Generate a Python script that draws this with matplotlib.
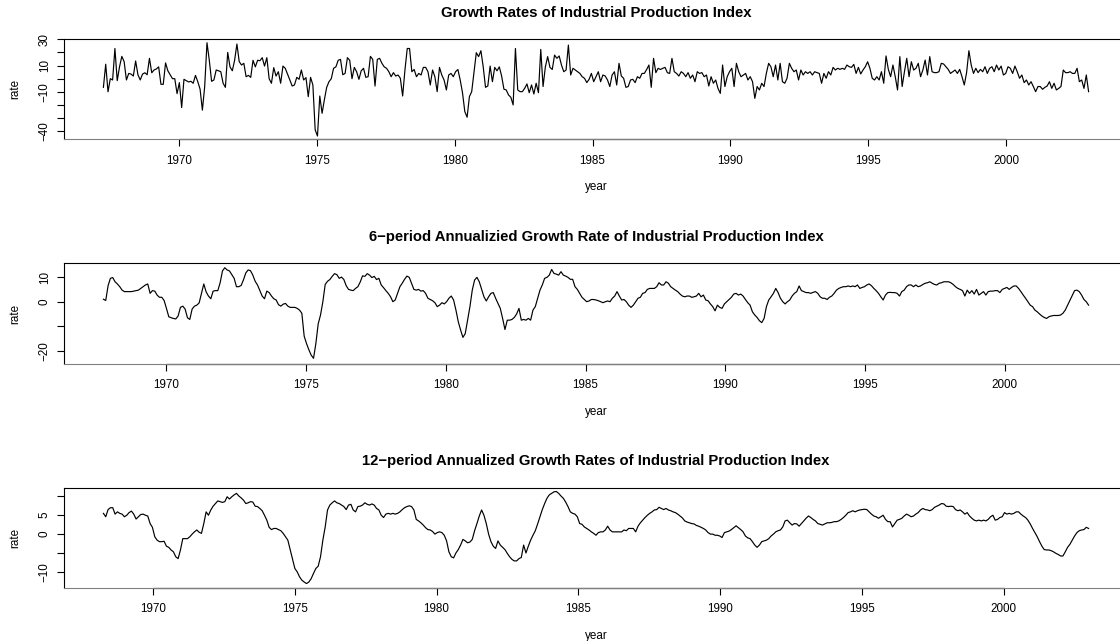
import matplotlib
matplotlib.use("Agg")
import matplotlib.pyplot as plt
import numpy as np

plt.rcParams['font.family'] = ['Liberation Sans', 'DejaVu Sans']

# monthly growth rate (1967.25 .. 2003.0)
growth = [
    -6.6, 11, -10, 0, -1, 23, -1.5, 9, 17, 13,
    -1, 4, 3.5, 2, 13.5, 3, -1, 3.5, 4.5, 3,
    15.5, 4.5, 6.6, 7.4, 9, -4.3, -4.3, 12, 6, 3,
    0, 0, -11.4, -3, -22, -0.5, -1.5, -2.5, -2, -3.5,
    2.5, -2.3, -8, -24, -6, 27.4, 14, -2, -1, 6.6,
    6, 5.3, -3.5, -6.6, 20, 9, 6, 14, 26.4, 13,
    10.4, 11.7, 1.5, 2.5, 1, 14, 9, 14, 13.7, 16,
    9.6, 16, 0, -3.5, 8.4, 2, 5.3, -3.5, 9.6, 7.9,
    3.5, -1, -5.6, -4.8, 1, -0.5, 6.6, -1, 0.8, -13.7,
    1, -4.8, -39, -43.7, -13.2, -26.4, -16, -6.6, -2.3, 0,
    7.9, 9, 14, 14.7, 3, 4, 16, 14, 0, 8.6,
    5.3, -0.5, 6, 7.9, 1, 1.5, 17, 14.7, -5.6, 14.7,
    15.5,
    11.7, 9, 7.9, 5.3, 1.5, 4.6, 2, 2.8, 0.3, -13.2,
    6.6, 23, 23, 5.3, 7, 1.5, 4, 2.8, 8.6, 8.6,
    5.3, -4.8, 6.6, 1.5, -9.9, 8.6, 2.8, -1, -8.6, 2.8,
    4, 1.5, 5.3, 7, -1, -10.7, -25, -29.4, -13.7, -9.9,
    5.3, 19.8, 16.8, 21.3, 9, -6.6, -5.6, 9.6, -2.3, 8.6,
    6, 9, 2, -8, -8.6, -12.4, -14.2, -20, 23, -8.6,
    -9.9, -9.9, -7.4, -4, -10.7, -4.8, -11.7, -3.5, -10.7, 22.3,
    -6, 9, 16.8, 8.6, 7, 18, 15.5, 17.3, 10.4, 5.3,
    6.6, 25.6, 2.8, 7.9, 6.6, 5.3, 4, 1.5, 0.3, -3,
    -0.5, 4, -2.3, 1.5, 5.3, -2.3, 2.8, 2, -1, -6,
    2.8, 5.3, -4.8, 11.7, 2, 0.3, -6.6, -6, -1, -0.5,
    -3, 1.5, 0.3, 4, 4, 7, 10.4, -6.6, 15.5, 4.6,
    7.9, 7, 7.9, 8.6, 4.6, 4, 15.5, 5.3, 4, 2,
    5.3, 4, 1.5, 4.6, 0.3, 2.8, -2.3, 5.3, 4, 4.6,
    1.5, 2.8, -5.6, 1.5, -3.5, -1, -7.4, -11.2, 10.4, -6,
    1.5, 5.3, 7.9, -6, 11.7, 5.3, 1.5, 2.8, 4, -1,
    1.5,
    -2.3, -15, -6, -8.6, -3.5, -6, 4, 11.7, 9, 1.5,
    10.4, -1, 11.7, -2.3, -3.5, 0.3, 11.7, 7.9, 5.3, 6.6,
    -1, 6.6, 2.8, 5.3, 4, 5.3, 2.8, 5.3, 4.6, 4,
    -3.5, 4, 0.3, 5.3, 2.8, 8.6, 6.6, 7.9, 7.1, 7.9,
    7.1, 10.4, 9.1, 8.6, 10.9, 4, 8.6, 3.6, 6.6, 9.1,
    12.9, 7.9, 0.3, -1, 1.5, -1, 5.3, -3.5, 17.3, 7.1,
    1.5, 10.4, 1.5, -8.6, 16.8, -6, 5.3, 15.5, 1.5, 12.9,
    6.6, 7.9, 11.7, 1.5, 6.6, 14.2, 2.8, 16.8, 5.3, 4.6,
    4.6, 5.3, 11.7, 11.2, 9.1, 7.1, 4, 5.3, 6.6, 4,
    7.1, 1.5, -4.8, 4.6, 21.3, 10.4, 4, 7.9, 4.6, 7.1,
    5.3, 9.1, 4, 7.9, 9.1, 5.3, 10.4, 6.6, 9.6, 2.8,
    4, 9.1, 7.9, 4, 9.6, 5.3, 0.3, 2.8, -3, -1,
    -4.8, -2.3, -6, -9.9, -6, -6, -8.1, -6.6, -5.6, -2.3,
    -7.4, -3.5, -8.6, -7.4, -6, 6.6, 4.6, 4.6, 5.3, 4,
    4, 7.9, -2.3, -1, -7.4, 2.8, -9.9,
]

# 6-period annualized growth (1967.75 .. 2003.0)
growth6 = [
    1, 0.5, 6.5, 9.5, 9.8, 8.1, 7.2, 6.1, 4.7, 4.1,
    4.1, 4.1, 4.1, 4.3, 4.5, 4.7, 5.4, 6.1, 6.8, 7.2,
    3.4, 4.5, 4.3, 2.7, 1.8, 1.8, 0.5, -2.7, -6.1, -6.5,
    -6.8, -7, -5.8, -2.3, -1.8, -3, -6.5, -7.2, -3, -1.8,
    -1.4, -0.5, 3.4, 7.2, 4, 2.3, 1.2, 4.3, 4.5, 4.5,
    7.7, 12.5, 13.8, 12.9, 12.5, 11, 9.5, 6.1, 6.1, 6.6,
    8.9, 11.7, 12.9, 12.6, 10.8, 8.3, 6.8, 4.5, 2.3, 1.2,
    4.3, 3.7, 2.3, 1.2, 0.7, -1.2, -1.8, -1, -0.7, -1.8,
    -2.3, -2.3, -2.3, -2.7, -3.4, -4.7, -14, -17, -19.5, -21.7,
    -23, -17, -9, -5.4, 0, 7, 8.3, 9, 10.3, 11.4,
    11, 9.5, 10, 9, 6.5, 5, 4.7, 4.5, 5.4, 6.1,
    8, 10.5, 10.3, 11.4, 10.8, 9.8, 10.3, 9, 9.5,
    6.8, 5.7, 4.5, 3.4, 2, 0, 0.7, 3.4, 6.1, 7.5,
    9.1, 10.4, 9.9, 7.5, 5, 4.7, 5, 4.3, 4.5, 3.4,
    1.4, 0.9, 0.4, -0.4, -2, -1.4, -0.4, -0.9, 0, 1.4,
    2.3, 0.7, -3.4, -8.1, -11.5, -14.5, -12.9, -7.5, -2, 4.7,
    8.8, 9.9, 8.1, 5, 2, 0.3, 2, 3.4, 3.7, 1.4,
    -0.7, -2.7, -6.8, -11.3, -7.5, -7.5, -7.2, -6.4, -5, -2.7,
    -7.5, -7.2, -7.5, -6.8, -7.5, -3.4, -2, 1.4, 4.7, 6.8,
    9.5, 9.9, 10.8, 13.1, 11.5, 11.2, 10.8, 12.2, 10.8, 10.4,
    9.9, 9.1, 9.1, 6.1, 5, 3.4, 1.8, 0.9, 0, 0.3,
    0.9, 0.9, 0.7, 0.4, 0, -0.4, 0, 0.3, 0, 1.4,
    2.3, 4.1, 2.3, 0.7, 0.9, 0, -1.4, -2.3, -1.4, 0,
    1.4, 1.8, 3.4, 3.7, 5, 5.4, 5.4, 5.4, 6.1, 7.7,
    6.8, 6.8, 8.1, 7.5, 6.1, 5.4, 4.7, 4.1, 3.1, 2.3,
    2, 2.3, 2.3, 1.8, 2, 2.3, 3.4, 2, 2.7, 0.7,
    0.4, -0.9, -2, -3.7, -1.4, -2.3, -2.7, -0.9, 0, 0.9,
    1.8, 3.1, 3.4, 2.7, 3.1, 2.3, 0.9, -0.4, -1.4,
    -4.1, -5.4, -6.4, -7.7, -8.5, -6.8, -2, 0.7, 2, 3.4,
    5.4, 3.7, 1.4, 0, -0.9, 0, 0.7, 2.3, 3.4, 4.1,
    6.4, 4.5, 4.1, 3.7, 3.7, 3.4, 3.8, 4.1, 3.4, 2,
    1.4, 1.4, 0.9, 1.8, 2.3, 3.4, 4.7, 5.4, 5.8, 6.1,
    6.1, 6.4, 6.1, 6.4, 6.1, 6.8, 5.4, 5.8, 6.1, 6.8,
    7.2, 6.5, 5.4, 4.5, 3.4, 2, 0.7, 2.7, 3.7, 3.8,
    3.7, 3.7, 3.4, 2.3, 4.1, 4.7, 6.1, 6.8, 6.8, 6.1,
    6.8, 6.1, 6.4, 7, 7.5, 7.7, 8.1, 7.5, 7, 6.8,
    7.5, 7.7, 8.1, 8.1, 8.1, 7.7, 7, 6.1, 5.4, 5,
    4.5, 2.3, 4.7, 3.4, 4.5, 3.1, 5, 2.7, 3.4, 4.1,
    2.7, 4.1, 4.3, 4.3, 4.5, 4.5, 3.7, 5, 5.4, 5.8,
    5, 5.8, 6.4, 6.4, 5.4, 4.1, 2.7, 1.4, 0, -1.4,
    -2, -3.4, -4.1, -5, -5.8, -6.4, -6.8, -6.1, -5.8, -5.6,
    -5.6, -5.6, -5.4, -4.7, -3.4, -1.4, 0.7, 2.7, 4.5, 4.7,
    4.1, 2.7, 0.9, 0, -1.4,
]

# 12-period annualized growth (1968.25 .. 2003.0)
growth12 = [
    5.5, 4.6, 6.5, 7, 7, 5.3, 5.9, 5.5, 5.3, 4.6,
    5, 5.7, 6.1, 5.3, 4, 4.6, 5.2, 5.3, 5, 4.8,
    2.8, 1.8, -0.7, -1.6, -2, -2, -1.9, -3.2, -3.5, -4.2,
    -4.7, -6, -6.5, -4.2, -1.2, -1.2, -1.2, -0.7, 0, 0.6,
    1.1, 0.5, 0.2, 2.8, 5.9, 5, 6.4, 7.4, 8.1, 8.8,
    8.6, 8.4, 8.6, 9.9, 9.3, 9.9, 10.4, 10.8, 10.1, 9.6,
    9, 8.1, 8.3, 8.6, 8.5, 7.4, 7.3, 6.8, 6.2, 5,
    3.7, 1.8, 1.2, 1.5, 1.5, 1.2, 0.9, 0.2, -0.7, -1.6,
    -4.1, -6.5, -9.1, -10, -11.3, -12.2, -12.7, -13.1, -12.7, -11.8,
    -10.4, -9.1, -8.5, -6, -1.6, 1.9, 6.4, 7.7, 8.3, 8.8,
    8.3, 8.1, 7.7, 7.3, 6.5, 7.7, 7.9, 6.4, 5.9, 7.3,
    7.4, 7.7, 8.3, 7.9, 7.7, 8, 7.7, 6.8, 6.4,
    5, 4.4, 5.3, 5.5, 5.3, 5.5, 5.3, 5.5, 5.9, 6.5,
    7, 7.3, 7.5, 7.3, 6.4, 3.9, 3.5, 3, 2.4, 1.7,
    1.2, 1.1, 0.7, 0, 0.4, 0.6, 0.4, -0.3, -1.8, -4.7,
    -6, -6.3, -5, -4.1, -2.9, -1.4, -1.8, -2.3, -2.1, -1.4,
    0.9, 2.8, 4.8, 6.4, 5, 2.8, 0, -2, -3.2, -3.8,
    -1.8, -2.9, -3.5, -4.1, -5.1, -6, -6.7, -7.1, -7.1, -6.5,
    -6.2, -2.9, -5, -3.2, -1.6, -0.3, 0.9, 2.7, 4.6, 6.5,
    8.1, 9.5, 10.4, 10.8, 11.2, 11.3, 10.8, 10.1, 9.5, 8.5,
    7.3, 5.9, 5.5, 5.3, 4.6, 2.8, 2.6, 1.9, 1.5, 1.1,
    0.6, 0.2, -0.3, 0.4, 0.6, 0.6, 1.1, 2.1, 1.1, 0.6,
    0.6, 0.6, 0.6, 0.6, 1.1, 0.9, 1.5, 1.5, 1.5, 0.6,
    2.1, 3, 3.7, 4.4, 5, 5.5, 5.9, 6.4, 6.5, 7.1,
    6.8, 6.5, 6.8, 6.4, 6.2, 5.9, 5.7, 5.3, 4.8, 4.3,
    3.5, 3.2, 3, 2.8, 2.7, 2.3, 2.1, 1.8, 1.5, 1.1,
    0.4, 0, 0, -0.3, -0.3, -0.5, -0.9, 0.4, 0.6, 0.8,
    1.2, 1.7, 2.2, 1.7, 1.2, 0.6, -0.5, -1, -1.2,
    -2, -2.9, -3.5, -2.9, -2, -1.8, -1.6, -1.2, -0.5, 0,
    0.6, 0.9, 1.1, 1.9, 3.5, 3.7, 3, 2.4, 2.8, 2.7,
    2.1, 2.8, 3.5, 4.2, 4.8, 4.4, 3.9, 3.5, 2.8, 2.6,
    2.4, 2.7, 3, 3, 3.1, 3.3, 3.3, 3.5, 3.9, 4.4,
    5, 5.7, 5.9, 6.2, 5.9, 6.2, 6.4, 6.5, 6.6, 6.5,
    5.9, 5.3, 4.8, 4.6, 4.2, 4.6, 5, 3.9, 3.3, 3.3,
    1.9, 2.8, 3.7, 3.9, 4.2, 4.8, 5.3, 5, 4.6, 4.8,
    5.3, 5.7, 6.4, 6.8, 6.5, 6.4, 6.2, 6.5, 7.1, 7.4,
    7.7, 8.1, 8, 7.4, 7.3, 7.4, 7.3, 6.5, 6.2, 6.4,
    5.9, 5.3, 5.7, 4.8, 4.2, 3.7, 3.5, 3.7, 3.5, 3.7,
    3.5, 3.9, 4.6, 5, 3.7, 3.9, 4.4, 4.6, 5.7, 5.3,
    5.5, 5.3, 5.5, 5.9, 5.9, 5.3, 4.8, 4.4, 3.7, 2.7,
    1.5, 0.4, -0.7, -2, -3.2, -4.1, -4.2, -4.2, -4.4, -4.7,
    -5.1, -5.4, -5.8, -5.8, -4.7, -3.5, -2.7, -1.6, -0.5, 0.4,
    0.9, 1.1, 1.2, 1.8, 1.5,
]

starts = [1967.25, 1967.75, 1968.25]
end_year = 2003.0
titles = [
    "Growth Rates of Industrial Production Index",
    "6\u2212period Annualizied Growth Rate of Industrial Production Index",
    "12\u2212period Annualized Growth Rates of Industrial Production Index",
]
ylims = [(-46.2, 30.0), (-25.3, 15.6), (-14.2, 12.3)]
yticks = [[30, 20, 10, 0, -10, -20, -30, -40], [10, 0, -10, -20], [10, 5, 0, -5, -10]]
ytick_labels = [
    ["30", "", "10", "", "\u221210", "", "", "\u221240"],
    ["10", "0", "", "\u221220"],
    ["", "5", "0", "", "\u221210"],
]
xticks = [1970, 1975, 1980, 1985, 1990, 1995, 2000]

# layout in pixels (figure 1120 x 641); right edge of the box falls off the image
W, H = 1120.0, 641.0
left_px, right_px = 64.0, 1128.0
boxes = [(39.3, 139.3), (263.3, 364.0), (487.7, 587.7)]

fig = plt.figure(figsize=(W / 100, H / 100), dpi=100)

for series, start, title, ylim, yt, ytl, (top, bot) in zip(
        [growth, growth6, growth12], starts, titles, ylims, yticks, ytick_labels, boxes):
    ax = fig.add_axes([left_px / W, 1 - bot / H, (right_px - left_px) / W, (bot - top) / H])
    x = np.linspace(start, end_year, len(series))
    ax.plot(x, series, color="black", lw=0.85)
    span = end_year - start
    ax.set_xlim(start - 0.04 * span, end_year + 0.04 * span)
    ax.set_ylim(*ylim)
    ax.set_xticks(xticks)
    ax.set_xticklabels([str(t) for t in xticks], fontsize=8.4)
    ax.set_yticks(yt)
    ax.set_yticklabels(ytl, fontsize=8.4, rotation=90, va="center")
    ax.tick_params(direction="out", length=5, width=0.8, pad=4.5)
    ax.tick_params(axis="x", pad=6)
    for sp in ax.spines.values():
        sp.set_linewidth(0.8)
    ax.spines["bottom"].set_color("#808080")
    # R draws the x axis line only between the first and last tick
    ax.plot([xticks[0], xticks[-1]], [ylim[0], ylim[0]], color="#222222", lw=0.9,
            clip_on=False, solid_capstyle="butt")
    box_h = bot - top
    ax.text(0.5, 1 + 26.5 / box_h, title, transform=ax.transAxes, ha="center",
            va="center", fontsize=10.7, fontweight="bold")
    ax.text(0.5, -48.0 / box_h, "year", transform=ax.transAxes, ha="center",
            va="center", fontsize=8.4)
    fig.text(15 / W, 1 - (top + bot) / 2 / H, "rate", rotation=90, ha="center",
             va="center", fontsize=8.4)

fig.savefig("out.png", dpi=100)
